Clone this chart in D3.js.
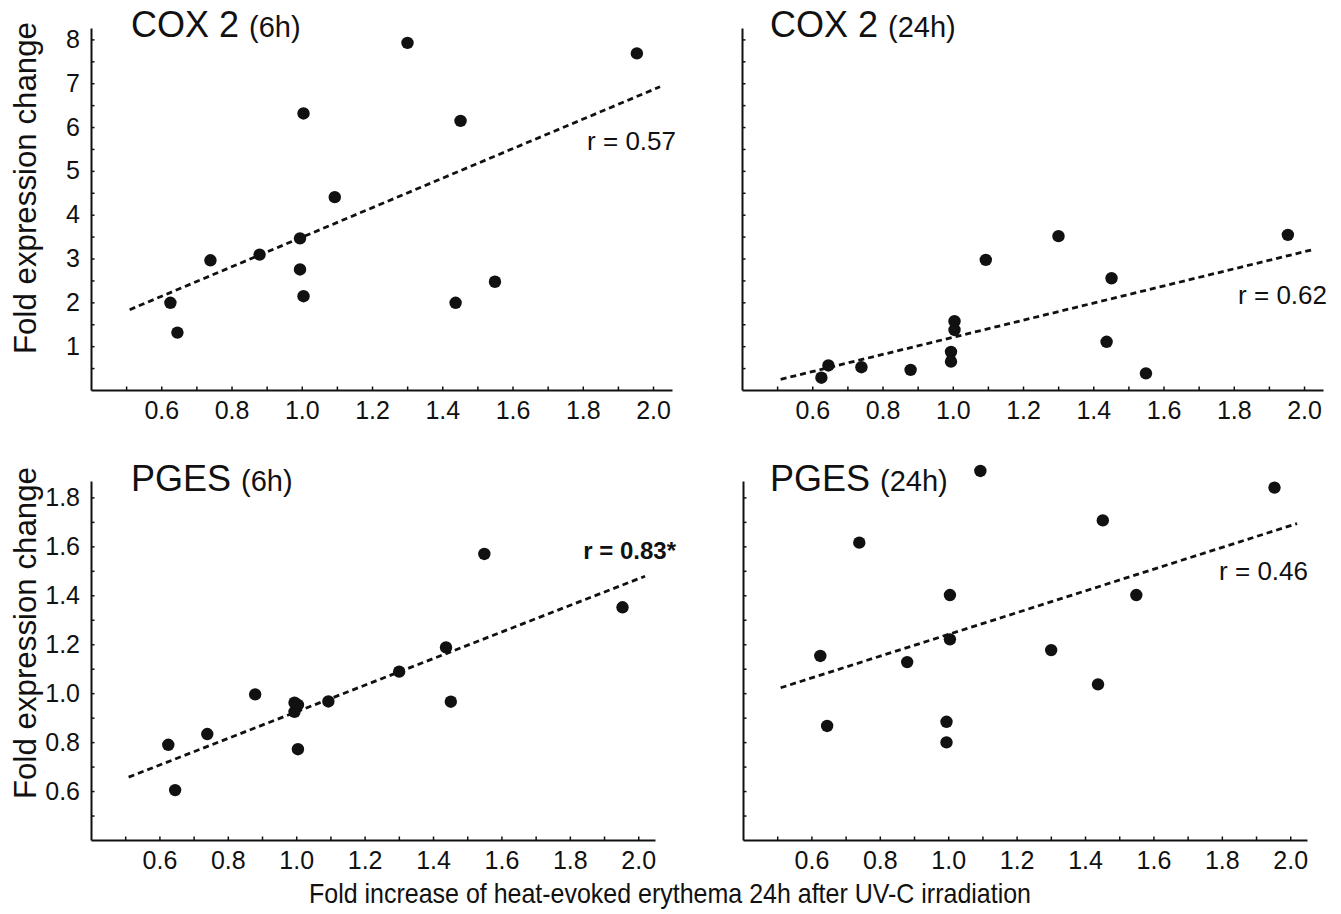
<!DOCTYPE html>
<html>
<head>
<meta charset="utf-8">
<script src="https://cdn.jsdelivr.net/npm/d3@7"></script>
<style>
  html, body { margin: 0; padding: 0; background: #fff; }
  svg { display: block; font-family: "Liberation Sans", Arial, sans-serif; }
  .axis path, .axis line { stroke: #111; }
  .axis text { fill: #111; }
</style>
</head>
<body>
<svg id="chart" width="1341" height="914"></svg>
<script>
// Fold increase of heat-evoked erythema (x) for each of the 14 subjects
const erythema = [0.626, 0.646, 0.74, 0.88, 0.995, 0.995, 1.005, 1.005, 1.094, 1.301, 1.438, 1.452, 1.55, 1.954];

// Fold expression change per subject, same order as erythema
const cox2_6h  = [1.99, 1.31, 2.96, 3.09, 3.46, 2.75, 6.31, 2.14, 4.40, 7.92, 1.99, 6.14, 2.47, 7.68];
const cox2_24h = [0.28, 0.56, 0.52, 0.46, 0.87, 0.65, 1.57, 1.37, 2.97, 3.51, 1.10, 2.55, 0.38, 3.54];
const pges_6h  = [0.789, 0.604, 0.833, 0.995, 0.961, 0.924, 0.952, 0.771, 0.966, 1.088, 1.187, 0.965, 1.569, 1.351];
const pges_24h = [1.152, 0.866, 1.615, 1.127, 0.883, 0.799, 1.401, 1.220, 1.908, 1.176, 1.036, 1.706, 1.401, 1.840];

// Regression lines: x span and fitted y at both ends
const trendX = [0.51, 2.02];
const cox2_6h_trend  = [1.833, 6.92];
const cox2_24h_trend = [0.244, 3.193];
const pges_6h_trend  = [0.657, 1.478];
const pges_24h_trend = [1.022, 1.693];

// Panel texts
const panelGenes   = ["COX 2", "COX 2", "PGES", "PGES"];
const panelTimes   = ["(6h)", "(24h)", "(6h)", "(24h)"];
const corrLabels   = ["r = 0.57", "r = 0.62", "r = 0.83*", "r = 0.46"];
const corrSignificant = [false, false, true, false];

// Tick values
const xMajorTicks = [0.6, 0.8, 1.0, 1.2, 1.4, 1.6, 1.8, 2.0];
const xMinorTicks = [0.5, 0.7, 0.9, 1.1, 1.3, 1.5, 1.7, 1.9];
const cox2MajorTicks = [1, 2, 3, 4, 5, 6, 7, 8];
const cox2MinorTicks = [0.5, 1.5, 2.5, 3.5, 4.5, 5.5, 6.5, 7.5];
const pgesMajorTicks = [0.6, 0.8, 1.0, 1.2, 1.4, 1.6, 1.8];
const pgesMinorTicks = [0.5, 0.7, 0.9, 1.1, 1.3, 1.5, 1.7];

const yAxisTitle = "Fold expression change";
const xAxisTitle = "Fold increase of heat-evoked erythema 24h after UV-C irradiation";

const svg = d3.select("#chart");

const ink = "#111";

// Panel geometry
const panels = [
  { ys: cox2_6h,  trend: cox2_6h_trend,  xr: [91, 672],  xd: [0.4, 2.054], yd: [0, 8.26],     yr: [390, 28],  major: cox2MajorTicks, minor: cox2MinorTicks, fmt: d3.format("d"),   yLabels: true,  title: [131, 37], corr: [676, 150] },
  { ys: cox2_24h, trend: cox2_24h_trend, xr: [742, 1323], xd: [0.4, 2.054], yd: [0, 8.26],     yr: [390, 28],  major: cox2MajorTicks, minor: cox2MinorTicks, fmt: d3.format("d"),   yLabels: false, title: [770, 37], corr: [1327, 304] },
  { ys: pges_6h,  trend: pges_6h_trend,  xr: [91, 655],  xd: [0.4, 2.049], yd: [0.4, 1.867],  yr: [840, 481], major: pgesMajorTicks, minor: pgesMinorTicks, fmt: d3.format(".1f"), yLabels: true,  title: [131, 491], corr: [676, 559] },
  { ys: pges_24h, trend: pges_24h_trend, xr: [743, 1307], xd: [0.4, 2.049], yd: [0.4, 1.867],  yr: [840, 481], major: pgesMajorTicks, minor: pgesMinorTicks, fmt: d3.format(".1f"), yLabels: false, title: [770, 491], corr: [1308, 580] }
];

const isIn = (arr, v) => arr.some(a => Math.abs(a - v) < 1e-9);

panels.forEach((p, i) => {
  const x = d3.scaleLinear().domain(p.xd).range(p.xr);
  const y = d3.scaleLinear().domain(p.yd).range(p.yr);
  const g = svg.append("g");

  // x axis with inward ticks
  const xAxis = d3.axisBottom(x)
    .tickValues(xMinorTicks.concat(xMajorTicks).sort((a, b) => a - b))
    .tickSizeInner(-3.5)
    .tickSizeOuter(0)
    .tickPadding(7)
    .tickFormat(v => isIn(xMajorTicks, v) ? d3.format(".1f")(v) : "");
  const gx = g.append("g").attr("class", "axis")
    .attr("transform", `translate(0,${p.yr[0]})`)
    .call(xAxis);
  gx.select(".domain").attr("stroke-width", 2);
  gx.selectAll(".tick line").attr("stroke-width", 1.5);
  gx.selectAll(".tick text").attr("font-size", 25).attr("dy", "0.88em");

  // y axis with inward ticks
  const yAxis = d3.axisLeft(y)
    .tickValues(p.minor.concat(p.major).sort((a, b) => a - b))
    .tickSizeInner(-3.5)
    .tickSizeOuter(0)
    .tickPadding(11)
    .tickFormat(v => (p.yLabels && isIn(p.major, v)) ? p.fmt(v) : "");
  const gy = g.append("g").attr("class", "axis")
    .attr("transform", `translate(${p.xr[0]},0)`)
    .call(yAxis);
  gy.select(".domain").attr("stroke-width", 2);
  gy.selectAll(".tick line").attr("stroke-width", 1.5);
  gy.selectAll(".tick text").attr("font-size", 25);

  // dotted regression line
  g.append("line")
    .attr("x1", x(trendX[0])).attr("y1", y(p.trend[0]))
    .attr("x2", x(trendX[1])).attr("y2", y(p.trend[1]))
    .attr("stroke", ink)
    .attr("stroke-width", 2.8)
    .attr("stroke-dasharray", "6,4");

  // subject points
  g.selectAll("circle")
    .data(erythema.map((e, k) => [e, p.ys[k]]))
    .join("circle")
    .attr("cx", d => x(d[0]))
    .attr("cy", d => y(d[1]))
    .attr("r", 6.2)
    .attr("fill", ink);

  // panel title
  const t = g.append("text")
    .attr("x", p.title[0]).attr("y", p.title[1])
    .attr("fill", ink);
  t.append("tspan").attr("font-size", 36).text(panelGenes[i] + " ");
  t.append("tspan").attr("font-size", 29).text(panelTimes[i]);

  // correlation coefficient
  g.append("text")
    .attr("x", p.corr[0]).attr("y", p.corr[1])
    .attr("text-anchor", "end")
    .attr("font-size", corrSignificant[i] ? 24 : 26)
    .attr("font-weight", corrSignificant[i] ? "bold" : "normal")
    .attr("fill", ink)
    .text(corrLabels[i]);
});

// shared axis titles
[188, 633].forEach(cy => {
  svg.append("text")
    .attr("transform", `translate(36,${cy}) rotate(-90)`)
    .attr("text-anchor", "middle")
    .attr("font-size", 31)
    .attr("textLength", 332)
    .attr("lengthAdjust", "spacingAndGlyphs")
    .attr("fill", ink)
    .text(yAxisTitle);
});

svg.append("text")
  .attr("x", 670).attr("y", 903)
  .attr("text-anchor", "middle")
  .attr("font-size", 28)
  .attr("textLength", 722)
  .attr("lengthAdjust", "spacingAndGlyphs")
  .attr("fill", ink)
  .text(xAxisTitle);
</script>
</body>
</html>
